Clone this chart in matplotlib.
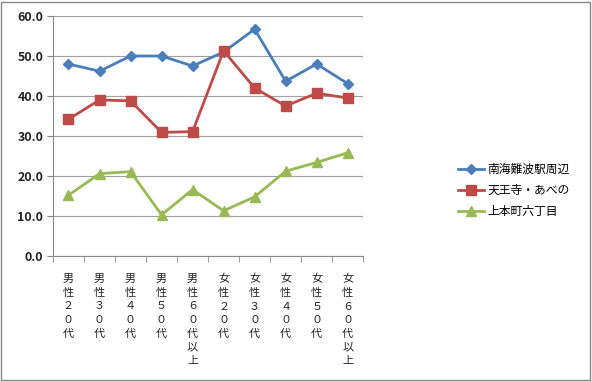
import matplotlib
matplotlib.use("Agg")
import matplotlib.pyplot as plt
from matplotlib.patches import Rectangle
from matplotlib.ticker import FixedLocator

plt.rcParams['font.family'] = ['Noto Sans CJK JP', 'DejaVu Sans']

categories = ["男性２０代", "男性３０代", "男性４０代", "男性５０代", "男性６０代以上",
              "女性２０代", "女性３０代", "女性４０代", "女性５０代", "女性６０代以上"]
series_names = ["南海難波駅周辺", "天王寺・あべの", "上本町六丁目"]
namba = [48.0, 46.2, 50.0, 50.0, 47.5, 51.0, 56.7, 43.7, 48.0, 43.1]
tennoji = [34.2, 39.0, 38.8, 30.9, 31.1, 51.3, 42.0, 37.5, 40.7, 39.5]
uehonmachi = [15.2, 20.6, 21.1, 10.3, 16.6, 11.3, 14.8, 21.2, 23.4, 25.8]
yticks = [0, 10, 20, 30, 40, 50, 60]

colors = ["#4A7EBB", "#BE4B48", "#98B954"]
markers = ["D", "s", "^"]
msizes = [5, 7, 7]

fig = plt.figure(figsize=(5.92, 3.81), dpi=100)
ax = fig.add_axes([0.0895, 0.328, 0.524, 0.630])

x = list(range(len(categories)))
for vals, name, c, m, ms in zip([namba, tennoji, uehonmachi], series_names, colors, markers, msizes):
    ax.plot(x, vals, color=c, marker=m, markersize=ms, linewidth=2, label=name,
            markeredgecolor=c, markerfacecolor=c)

ax.set_xlim(-0.5, len(categories) - 0.5)
ax.set_ylim(0, 60)
ax.set_yticks(yticks)
ax.set_yticklabels([f"{v:.1f}" for v in yticks], fontsize=9, color="#222222",
                   fontweight="semibold")
ax.yaxis.grid(True, color="#A0A0A0", linewidth=0.8)
ax.set_axisbelow(True)

ax.set_xticks(x)
ax.set_xticklabels(["\n".join(list(c)) for c in categories], fontsize=8,
                   linespacing=1.45, va="top", color="#222222")
ax.tick_params(axis='x', which='major', length=0, pad=13)
ax.xaxis.set_minor_locator(FixedLocator([i - 0.5 for i in range(len(categories) + 1)]))
ax.tick_params(axis='x', which='minor', length=4, color="#888888")
ax.tick_params(axis='y', length=4, color="#888888", pad=3)

for s in ["top", "right"]:
    ax.spines[s].set_visible(False)
for s in ["left", "bottom"]:
    ax.spines[s].set_color("#888888")

leg = fig.legend(loc="center left", bbox_to_anchor=(0.755, 0.5), frameon=False,
                 fontsize=8.5, handlelength=2.2, handletextpad=0.3, labelspacing=0.7)

fig.patches.append(Rectangle((0.002, 0.003), 0.995, 0.993, transform=fig.transFigure,
                             fill=False, edgecolor="#888888", linewidth=1))

fig.savefig("out.png", dpi=100)
